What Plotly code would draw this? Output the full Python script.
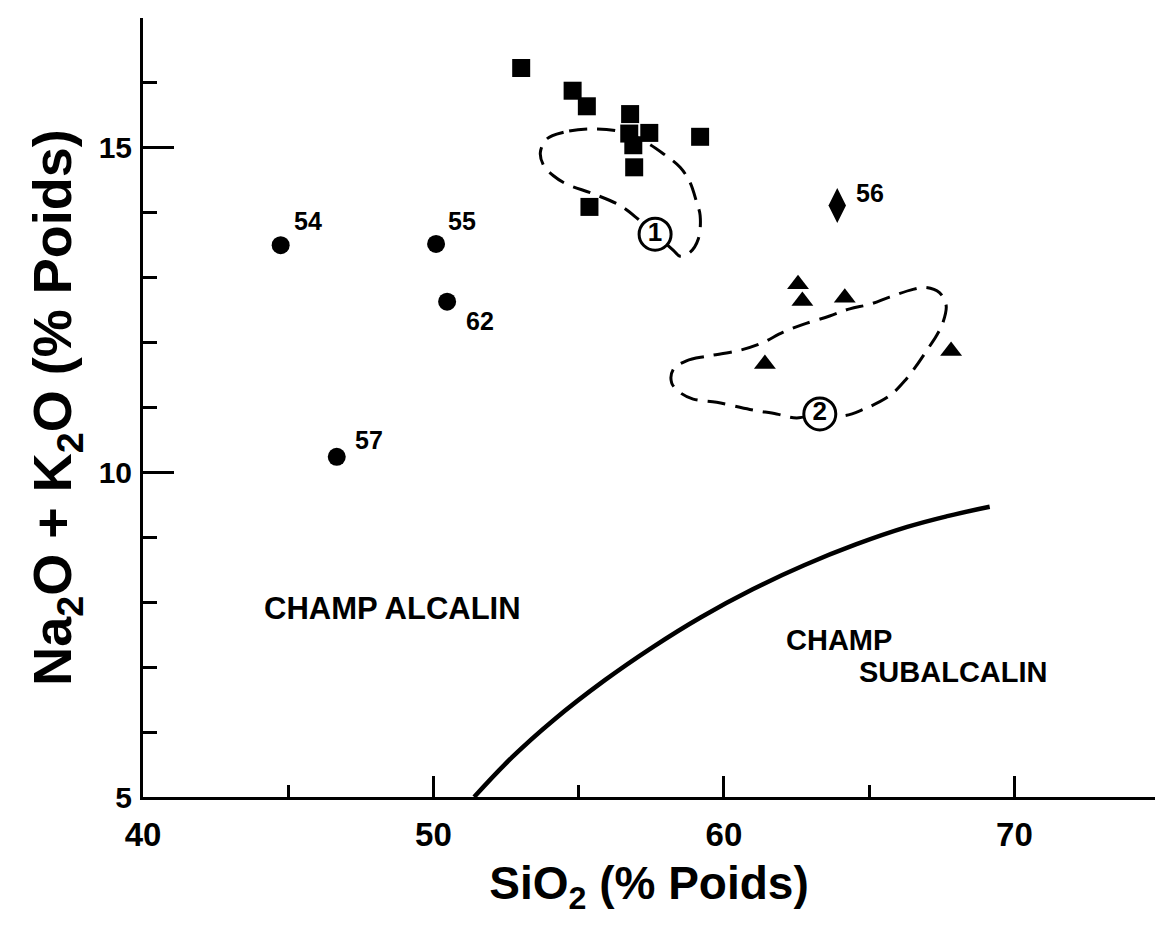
import plotly.graph_objects as go

# ---- data (SiO2 %, Na2O+K2O %) ----
sq_x = [53.02, 54.79, 55.28, 56.77, 56.74, 57.43, 56.88, 56.91, 59.18, 55.37]
sq_y = [16.23, 15.88, 15.64, 15.52, 15.22, 15.23, 15.04, 14.70, 15.17, 14.09]

tri_x = [62.55, 62.70, 64.16, 61.41, 67.82]
tri_y = [12.90, 12.64, 12.69, 11.67, 11.87]

circ_x = [44.74, 50.09, 50.47, 46.67]
circ_y = [13.50, 13.52, 12.63, 10.24]
circ_labels = ["54", "55", "62", "57"]

dia_x = [63.90]
dia_y = [14.11]
dia_labels = ["56"]

# alkaline / subalkaline boundary
curve_x = [51.40, 52.70, 54.12, 55.90, 57.55, 59.21, 60.99, 62.76, 64.54, 66.31, 67.73, 69.15]
curve_y = [5.00, 5.61, 6.18, 6.80, 7.31, 7.77, 8.20, 8.57, 8.89, 9.16, 9.33, 9.47]

# field 1 outline
loop1_x = [55.40, 54.48, 53.91, 53.68, 53.79, 54.13, 54.59, 55.51, 56.43, 57.05, 57.63,
           58.26, 58.49, 58.83, 59.12, 59.18, 59.06, 58.83, 58.49, 57.91, 57.34, 56.54, 55.40]
loop1_y = [15.29, 15.24, 15.14, 14.93, 14.73, 14.57, 14.44, 14.29, 14.11, 13.90, 13.67,
           13.42, 13.33, 13.39, 13.60, 13.96, 14.16, 14.47, 14.70, 14.91, 15.08, 15.24, 15.29]

# field 2 outline
loop2_x = [58.26, 58.71, 59.41, 60.44, 61.24, 62.04, 62.73, 63.64, 64.33, 65.02, 65.70, 66.51,
           66.97, 67.42, 67.65, 67.54, 67.31, 66.97, 66.62, 66.28, 65.70, 64.79, 64.10, 63.30,
           62.50, 61.81, 60.89, 59.75, 58.94, 58.49, 58.20, 58.26]
loop2_y = [11.59, 11.72, 11.79, 11.87, 11.98, 12.16, 12.28, 12.41, 12.52, 12.59, 12.70, 12.82,
           12.85, 12.77, 12.57, 12.31, 12.10, 11.87, 11.64, 11.44, 11.18, 10.97, 10.87, 10.90,
           10.84, 10.90, 10.97, 11.08, 11.13, 11.23, 11.38, 11.59]

field_x = [57.63, 63.30]
field_y = [13.67, 10.90]
field_labels = ["1", "2"]

FONT = "Liberation Sans, Arial, Helvetica, sans-serif"
BLACK = "#000000"

fig = go.Figure()

dash = "18px,10px"
fig.add_trace(go.Scatter(x=loop1_x, y=loop1_y, mode="lines",
                         line=dict(color=BLACK, width=3, dash=dash, shape="spline", smoothing=1.0),
                         hoverinfo="skip"))
fig.add_trace(go.Scatter(x=loop2_x, y=loop2_y, mode="lines",
                         line=dict(color=BLACK, width=3, dash=dash, shape="spline", smoothing=1.0),
                         hoverinfo="skip"))
fig.add_trace(go.Scatter(x=curve_x, y=curve_y, mode="lines",
                         line=dict(color=BLACK, width=4.5, shape="spline", smoothing=1.2),
                         hoverinfo="skip"))

fig.add_trace(go.Scatter(x=sq_x, y=sq_y, mode="markers",
                         marker=dict(symbol="square", size=18, color=BLACK)))
fig.add_trace(go.Scatter(x=tri_x, y=tri_y, mode="markers",
                         marker=dict(symbol="triangle-up", size=19, color=BLACK)))
fig.add_trace(go.Scatter(x=circ_x, y=circ_y, mode="markers",
                         marker=dict(symbol="circle", size=18, color=BLACK)))
fig.add_trace(go.Scatter(x=dia_x, y=dia_y, mode="markers",
                         marker=dict(symbol="diamond-tall", size=25, color=BLACK)))

fig.add_trace(go.Scatter(x=field_x, y=field_y, mode="markers+text", text=field_labels,
                         textposition="middle center",
                         textfont=dict(family=FONT, size=26, color=BLACK, weight="bold"),
                         marker=dict(symbol="circle", size=32, color="white",
                                     line=dict(color=BLACK, width=3))))

shifts = {"54": (27, 24), "55": (26, 23), "62": (33, -19), "57": (32, 17), "56": (33, 13)}
annotations = []
for x, y, t in list(zip(circ_x, circ_y, circ_labels)) + list(zip(dia_x, dia_y, dia_labels)):
    dx, dy = shifts[t]
    annotations.append(dict(x=x, y=y, text=t, showarrow=False, xshift=dx, yshift=dy,
                            font=dict(family=FONT, size=25, color=BLACK, weight="bold")))

annotations += [
    dict(x=48.6, y=7.9, text="CHAMP ALCALIN", showarrow=False,
         font=dict(family=FONT, size=31, color=BLACK, weight="bold")),
    dict(x=63.95, y=7.42, text="CHAMP", showarrow=False,
         font=dict(family=FONT, size=29, color=BLACK, weight="bold")),
    dict(x=67.9, y=6.92, text="SUBALCALIN", showarrow=False,
         font=dict(family=FONT, size=29, color=BLACK, weight="bold")),
]

fig.update_layout(
    width=1155, height=936,
    margin=dict(l=143, r=0, t=18, b=139, pad=0),
    paper_bgcolor="white", plot_bgcolor="white",
    showlegend=False,
    annotations=annotations,
    font=dict(family=FONT, color=BLACK),
)

fig.update_xaxes(
    range=[40, 74.84], showgrid=False, zeroline=False,
    showline=True, linecolor=BLACK, linewidth=3,
    ticks="inside", tickmode="array", tickvals=[40, 50, 60, 70], ticktext=["40", "50", "60", "70"],
    ticklen=21, tickwidth=2.5, tickcolor=BLACK,
    minor=dict(tickvals=[45, 55, 65], ticks="inside", ticklen=12, tickwidth=2.5, tickcolor=BLACK),
    tickfont=dict(family=FONT, size=33, color=BLACK, weight="bold"),
    ticklabelstandoff=6,
    title=dict(text="SiO<sub>2</sub> (% Poids)", standoff=16,
               font=dict(family=FONT, size=46, color=BLACK, weight="bold")),
)
fig.update_yaxes(
    range=[5, 17], showgrid=False, zeroline=False,
    showline=True, linecolor=BLACK, linewidth=3,
    ticks="inside", tickmode="array", tickvals=[5, 10, 15], ticktext=["5", "10", "15"],
    ticklen=31, tickwidth=2.5, tickcolor=BLACK,
    minor=dict(tickvals=[6, 7, 8, 9, 11, 12, 13, 14, 16, 17], ticks="inside", ticklen=14,
               tickwidth=2.5, tickcolor=BLACK),
    tickfont=dict(family=FONT, size=30, color=BLACK, weight="bold"),
    ticklabelstandoff=2,
    title=dict(text="Na<sub>2</sub>O + K<sub>2</sub>O (% Poids)", standoff=10,
               font=dict(family=FONT, size=54, color=BLACK, weight="bold")),
)

fig.write_html("out.html")
